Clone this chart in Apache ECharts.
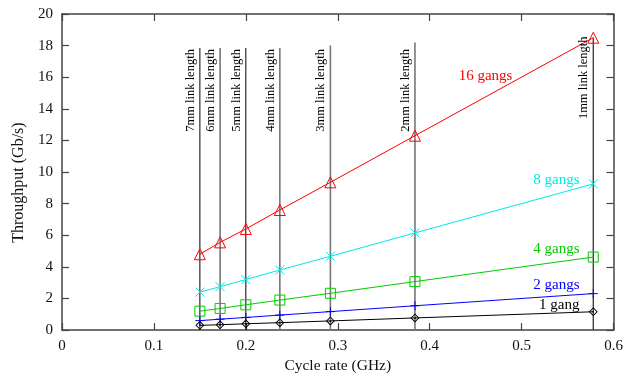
<!DOCTYPE html>
<html>
<head>
<meta charset="utf-8">
<script src="https://cdn.jsdelivr.net/npm/echarts@6/dist/echarts.min.js"></script>
<style>html,body{margin:0;padding:0;background:#fff}#c{width:633px;height:379px}</style>
</head>
<body>
<div id="c"></div>
<script>
// ---- data ----
const cycleRate = [0.150, 0.172, 0.200, 0.237, 0.292, 0.384, 0.578];
const gang16 = [4.8, 5.55, 6.4, 7.6, 9.35, 12.3, 18.5];
const gang8  = [2.4, 2.75, 3.2, 3.8, 4.67, 6.15, 9.25];
const gang4  = [1.2, 1.37, 1.6, 1.9, 2.33, 3.07, 4.62];
const gang2  = [0.6, 0.69, 0.8, 0.95, 1.17, 1.54, 2.31];
const gang1  = [0.3, 0.34, 0.4, 0.47, 0.58, 0.77, 1.16];
const linkLabels = ["7mm link length", "6mm link length", "5mm link length", "4mm link length",
                    "3mm link length", "2mm link length", "1mm link length"];
const seriesNames = ["16 gangs", "8 gangs", "4 gangs", "2 gangs", "1 gang"];
const xTicks = [0, 0.1, 0.2, 0.3, 0.4, 0.5, 0.6];
const yTicks = [0, 2, 4, 6, 8, 10, 12, 14, 16, 18, 20];

// ---- annotation placement (styles/positions) ----
const lineTops = [17.85, 17.85, 17.85, 17.85, 18.0, 18.2, 18.5];
const lineColors = ['#000', '#777', '#000', '#777', '#777', '#777', '#333'];
const lineWidths = [1, 1.6, 1, 1.6, 1.6, 1.6, 1.3];
const linkLabelBottom = [12.55, 12.55, 12.55, 12.55, 12.55, 12.55, 13.35];
const nameAnchors = [[0.490, 16.1], [0.563, 9.48], [0.563, 5.11], [0.563, 2.86], [0.563, 1.61]];

const FONT = '"Liberation Serif", "DejaVu Serif", serif';
const colors = ['#ff0000', '#00e8e8', '#00cc00', '#0000ff', '#000000'];
const values = [gang16, gang8, gang4, gang2, gang1];
const symbols = [
  'triangle',
  'path://M0,0L10,10M10,0L0,10',
  'rect',
  'path://M5,0L5,10M0,5L10,5',
  'path://M5,0L10,5L5,10L0,5Z M5,1.5L1.5,5L5,8.5L8.5,5Z M4.2,4.2L5.8,4.2L5.8,5.8L4.2,5.8Z'
];
const symbolSizes = [11, 9, 10, 9, 9];

const series = [];
// vertical link-length lines
cycleRate.forEach((x, i) => {
  series.push({
    type: 'line', silent: true, symbol: 'none', z: 1,
    data: [[x, 0], [x, lineTops[i]]],
    lineStyle: { color: lineColors[i], width: lineWidths[i] },
    animation: false
  });
});
// link-length labels
series.push({
  type: 'custom', z: 5, silent: true, animation: false,
  data: cycleRate.map((x, i) => [x, linkLabelBottom[i], i]),
  renderItem: function (params, api) {
    const p = api.coord([api.value(0), api.value(1)]);
    const i = api.value(2);
    return {
      type: 'text',
      x: p[0] - 3, y: p[1], rotation: Math.PI / 2,
      style: { text: linkLabels[i], font: '12.5px ' + FONT, fill: '#000',
               textAlign: 'left', textVerticalAlign: 'bottom' }
    };
  }
});
// data series
values.forEach((v, k) => {
  const isStroke = (k !== 4);
  series.push({
    type: 'line', name: seriesNames[k], z: 3, animation: false,
    data: cycleRate.map((x, i) => [x, v[i]]),
    symbol: symbols[k], symbolSize: symbolSizes[k], showSymbol: true,
    lineStyle: { color: colors[k], width: 1 },
    itemStyle: isStroke ? { color: 'rgba(0,0,0,0)', borderColor: colors[k], borderWidth: 1 }
                        : { color: colors[k], borderWidth: 0 }
  });
});
// series name labels
series.push({
  type: 'custom', z: 6, silent: true, animation: false,
  data: nameAnchors.map((a, k) => [a[0], a[1], k]),
  renderItem: function (params, api) {
    const p = api.coord([api.value(0), api.value(1)]);
    const k = api.value(2);
    return {
      type: 'text', x: p[0], y: p[1],
      style: { text: seriesNames[k], font: '15px ' + FONT, fill: colors[k],
               textAlign: 'right', textVerticalAlign: 'middle' }
    };
  }
});

const axisLine = { show: true, onZero: false, lineStyle: { color: '#444', width: 1.5 } };
const tick = { show: true, inside: true, length: 7, lineStyle: { color: '#444', width: 1.2 } };
const labelStyle = { fontFamily: FONT, fontSize: 15, color: '#111' };

const chart = echarts.init(document.getElementById('c'), null, { renderer: 'canvas' });
chart.setOption({
  backgroundColor: '#fff',
  animation: false,
  grid: { left: 62, right: 19.5, top: 14, bottom: 45.3, containLabel: false },
  xAxis: [
    { type: 'value', min: xTicks[0], max: xTicks[xTicks.length - 1], interval: 0.1,
      name: 'Cycle rate (GHz)', nameLocation: 'middle', nameGap: 26,
      nameTextStyle: { fontFamily: FONT, fontSize: 15.5, color: '#111' },
      axisLine: axisLine, axisTick: tick, splitLine: { show: false },
      axisLabel: Object.assign({ margin: 8, formatter: v => String(+v.toFixed(1)) }, labelStyle) },
    { type: 'value', position: 'top', min: xTicks[0], max: xTicks[xTicks.length - 1], interval: 0.1,
      axisLine: axisLine, axisTick: tick, axisLabel: { show: false }, splitLine: { show: false } }
  ],
  yAxis: [
    { type: 'value', min: yTicks[0], max: yTicks[yTicks.length - 1], interval: 2,
      name: 'Throughput (Gb/s)', nameLocation: 'middle', nameGap: 32,
      nameTextStyle: { fontFamily: FONT, fontSize: 16, color: '#111', padding: [0, 21, 0, 0] },
      axisLine: axisLine, axisTick: tick, splitLine: { show: false },
      axisLabel: Object.assign({ margin: 9 }, labelStyle) },
    { type: 'value', position: 'right', min: yTicks[0], max: yTicks[yTicks.length - 1], interval: 2,
      axisLine: axisLine, axisTick: tick, axisLabel: { show: false }, splitLine: { show: false } }
  ],
  series: series
});
</script>
</body>
</html>
